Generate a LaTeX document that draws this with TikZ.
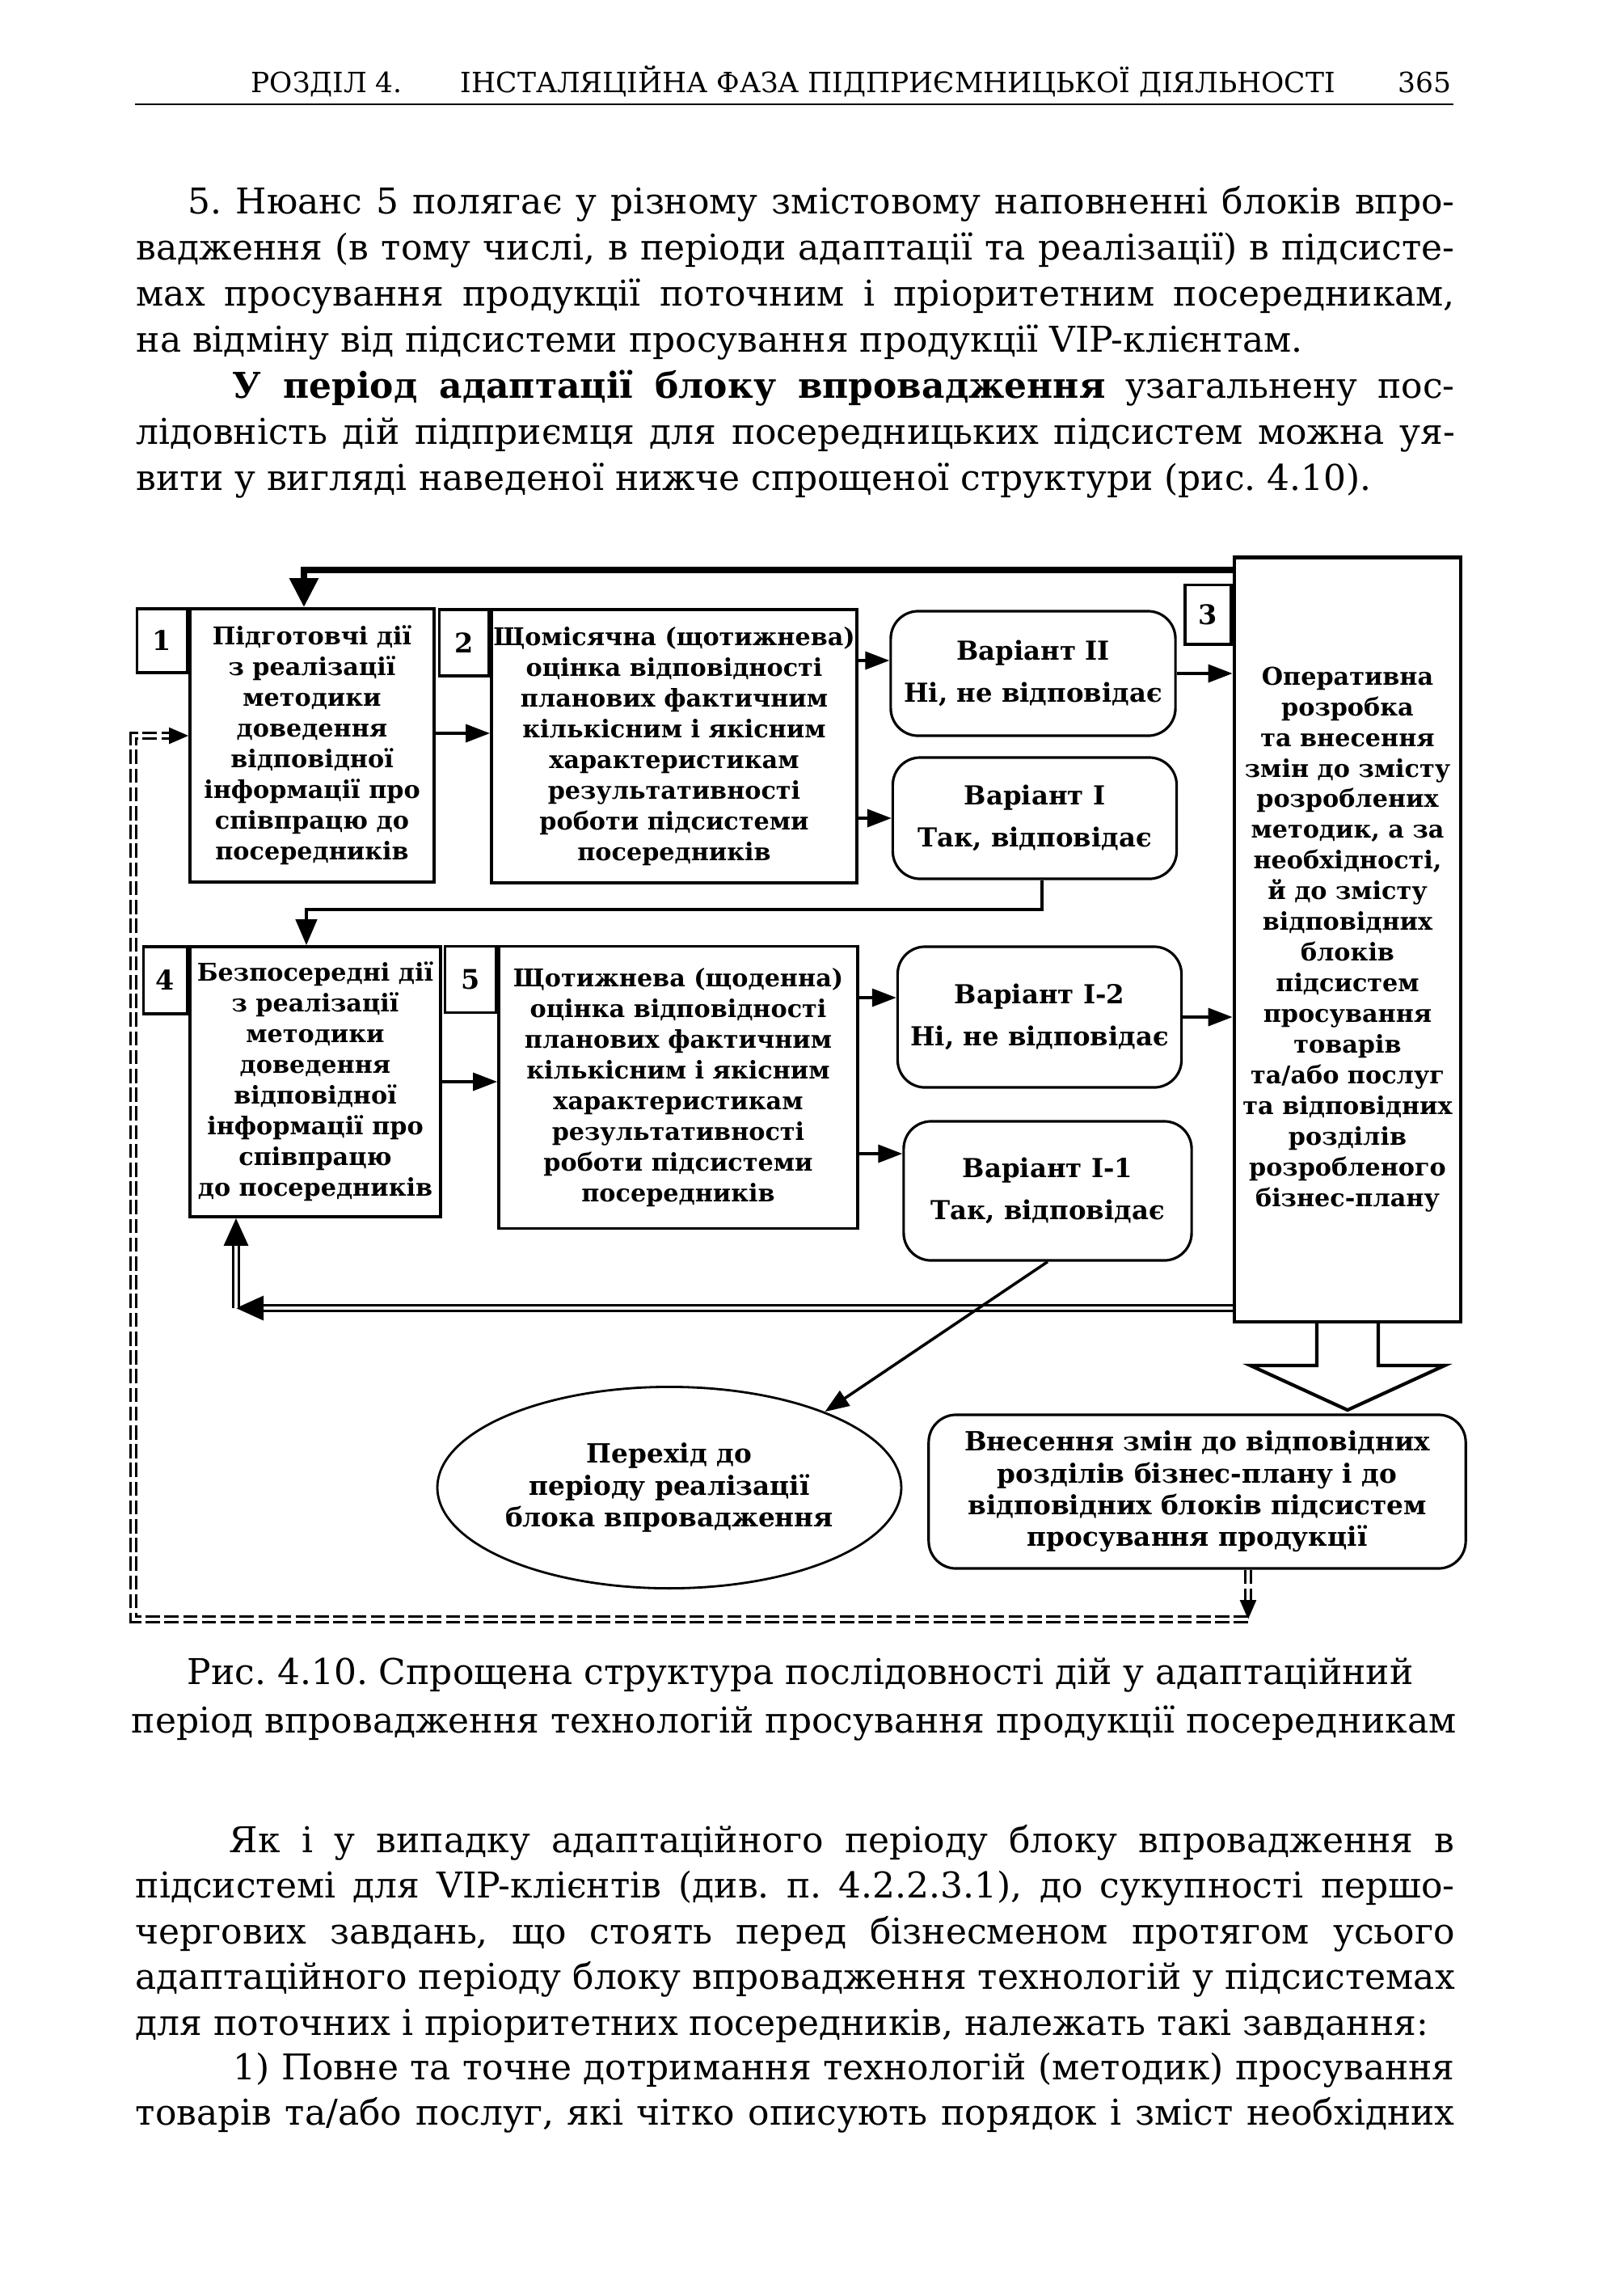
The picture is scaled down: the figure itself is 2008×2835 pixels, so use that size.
\documentclass[tikz,border=0pt]{standalone}
\usepackage{fontspec}
\setmainfont{DejaVu Serif}
\usepackage{tikz}
\usetikzlibrary{arrows.meta,positioning,shapes.geometric}
\newcommand{\boxtext}{\fontsize{8.6}{10.8}\selectfont\bfseries}
\newcommand{\numtext}{\fontsize{9.5}{11}\selectfont\bfseries}
\newcommand{\vartext}{\fontsize{9.2}{14.6}\selectfont\bfseries}
\newcommand{\bigboxtext}{\fontsize{9.3}{11.2}\selectfont\bfseries}
\newcommand{\bodytext}{\fontsize{12.5}{14}\selectfont}
\newcommand{\hdrtext}{\fontsize{9.8}{11}\selectfont}
\newcommand{\jline}[2]{\makebox[#1][s]{#2}}
\frenchspacing

\begin{document}
\begin{tikzpicture}[x=0.01cm,y=-0.01cm,
  txt/.style={inner sep=0pt,anchor=base west,font=\bodytext},
  hdr/.style={inner sep=0pt,anchor=base west,font=\hdrtext},
  blk/.style={draw,line width=1pt,inner sep=0pt,align=center,font=\boxtext},
  numbx/.style={draw,line width=1pt,inner sep=0pt,anchor=north east,font=\numtext},
  varbx/.style={draw,line width=0.9pt,rounded corners=0.34cm,inner sep=0pt,align=center,font=\vartext},
  arr/.style={line width=1pt,-{Triangle[length=0.3cm,width=0.22cm]}},
  arrw/.style={line width=1.3pt,-{Triangle[length=0.32cm,width=0.26cm]}},
  fbk/.style={line width=2.4pt,-{Triangle[length=0.36cm,width=0.34cm]}},
  dbl/.style={double,line width=0.9pt,double distance=1.3pt,-{Triangle[length=0.34cm,width=0.3cm]}},
  dashdbl/.style={double,line width=0.75pt,double distance=1.1pt,dash pattern=on 5pt off 1.6pt,-{Triangle[length=0.24cm,width=0.2cm]}}]
  \fill[white] (0,0) rectangle (2008,2835);
  \useasboundingbox (0,0) rectangle (2008,2835);

  \node[hdr] (hsec) at (310,114) {РОЗДІЛ 4.};
  \node[hdr,anchor=base] (htitle) at (1111,114) {ІНСТАЛЯЦІЙНА ФАЗА ПІДПРИЄМНИЦЬКОЇ ДІЯЛЬНОСТІ};
  \node[hdr,anchor=base east] (hpage) at (1796,114) {365};
  \draw[line width=0.75pt] (167,129) -- (1798,129);

  \node[txt] (pa1) at (232,264) {\jline{15.66cm}{5. Нюанс 5 полягає у різному змістовому наповненні блоків впро-}};
  \node[txt] (pa2) at (168,321) {\jline{16.30cm}{вадження (в тому числі, в періоди адаптації та реалізації) в підсисте-}};
  \node[txt] (pa3) at (168,378) {\jline{16.30cm}{мах просування продукції поточним і пріоритетним посередникам,}};
  \node[txt] (pa4) at (168,435) {на відміну від підсистеми просування продукції VIP-клієнтам.};
  \node[txt] (pa5) at (287,492) {\jline{15.11cm}{\textbf{У період адаптації блоку впровадження} узагальнену пос-}};
  \node[txt] (pa6) at (168,549) {\jline{16.30cm}{лідовність дій підприємця для посередницьких підсистем можна уя-}};
  \node[txt] (pa7) at (168,606) {вити у вигляді наведеної нижче спрощеної структури (рис. 4.10).};

  \node[blk,minimum width=3.02cm,minimum height=3.38cm] (box1) at (386,922)
    {Підготовчі дії\\з реалізації\\методики\\доведення\\відповідної\\інформації про\\співпрацю до\\посередників};
  \node[numbx,minimum width=0.62cm,minimum height=0.79cm] (n1) at (box1.north west) {1};
  \node[blk,minimum width=4.52cm,minimum height=3.38cm] (box2) at (834,923)
    {Щомісячна (щотижнева)\\оцінка відповідності\\планових фактичним\\кількісним і якісним\\характеристикам\\результативності\\роботи підсистеми\\посередників};
  \node[numbx,minimum width=0.61cm,minimum height=0.82cm] (n2) at (box2.north west) {2};
  \node[varbx,minimum width=3.52cm,minimum height=1.54cm] (vII) at (1278,833) {Варіант ІІ\\Ні, не відповідає};
  \node[varbx,minimum width=3.51cm,minimum height=1.50cm] (vI) at (1280,1012) {Варіант І\\Так, відповідає};
  \node[blk,line width=1.3pt,minimum width=2.80cm,minimum height=9.45cm] (box3) at (1667,1162)
    {Оперативна\\розробка\\та внесення\\змін до змісту\\розроблених\\методик, а за\\необхідності,\\й до змісту\\відповідних\\блоків\\підсистем\\просування\\товарів\\та/або послуг\\та відповідних\\розділів\\розробленого\\бізнес-плану};
  \node[numbx,minimum width=0.57cm,minimum height=0.73cm] (n3) at ([yshift=-0.35cm]box3.north west) {3};

  \node[blk,minimum width=3.10cm,minimum height=3.34cm] (box4) at (390,1338)
    {Безпосередні дії\\з реалізації\\методики\\доведення\\відповідної\\інформації про\\співпрацю\\до посередників};
  \node[numbx,minimum width=0.54cm,minimum height=0.83cm] (n4) at (box4.north west) {4};
  \node[blk,minimum width=4.44cm,minimum height=3.49cm] (box5) at (839,1345)
    {Щотижнева (щоденна)\\оцінка відповідності\\планових фактичним\\кількісним і якісним\\характеристикам\\результативності\\роботи підсистеми\\посередників};
  \node[numbx,minimum width=0.63cm,minimum height=0.82cm] (n5) at (box5.north west) {5};
  \node[varbx,minimum width=3.51cm,minimum height=1.74cm] (vI2) at (1286,1258) {Варіант І-2\\Ні, не відповідає};
  \node[varbx,minimum width=3.56cm,minimum height=1.72cm] (vI1) at (1296,1473) {Варіант І-1\\Так, відповідає};

  \node[ellipse,draw,line width=0.8pt,inner sep=0pt,align=center,font=\bigboxtext,
    minimum width=5.68cm,minimum height=2.49cm] (ell) at (828,1840)
    {Перехід до\\періоду реалізації\\блока впровадження};
  \node[varbx,font=\bigboxtext,minimum width=6.64cm,minimum height=1.90cm] (vn) at (1481,1845)
    {Внесення змін до відповідних\\розділів бізнес-плану і до\\відповідних блоків підсистем\\просування продукції};

  \coordinate (ytop) at (0,705);
  \draw[fbk] (box3.west |- ytop) -| ([xshift=-0.1cm]box1.north);
  \coordinate (y12) at (0,907);
  \draw[arr] (box1.east |- y12) -- (box2.west |- y12);
  \coordinate (y2a) at (0,817);
  \draw[arr] (box2.east |- y2a) -- (vII.west |- y2a);
  \draw[arr] (box2.east |- vI.west) -- (vI.west);
  \draw[arr] (vII.east) -- (vII.east -| box3.west);
  \coordinate (ymid) at (0,1125);
  \draw[arrw] ([xshift=0.09cm]vI.south) -- ([xshift=0.09cm]vI.south |- ymid) -| ([xshift=-0.11cm]box4.north);
  \draw[arr] (box4.east) -- (box4.east -| box5.west);
  \coordinate (y5a) at (0,1234);
  \draw[arr] (box5.east |- y5a) -- (vI2.west |- y5a);
  \coordinate (y5b) at (0,1427);
  \draw[arr] (box5.east |- y5b) -- (vI1.west |- y5b);
  \draw[arr] (vI2.east) -- (vI2.east -| box3.west);
  \coordinate (dblc) at (292,1618);
  \draw[dbl] (box3.west |- dblc) -- (dblc);
  \draw[dbl] (dblc) -- (box4.south -| dblc);
  \draw[arr] (vI1.south) -- (ell.26);
  \draw[line width=1.2pt,line join=miter] ([xshift=-0.38cm]box3.south) -- ++(0,52) -- ++(-82,0)
    -- ++(120,55) -- ++(120,-55) -- ++(-82,0) -- ++(0,-52);
  \coordinate (dl) at (165,2003);
  \coordinate (dr) at (1544,2003);
  \draw[dashdbl] (vn.south -| dr) -- (dr);
  \draw[dashdbl] (dr) -- (dl) |- ([yshift=0.12cm]box1.west);

  \node[txt,anchor=base] (cap1) at (990,2083) {Рис. 4.10. Спрощена структура послідовності дій у адаптаційний};
  \node[txt,anchor=base] (cap2) at (982,2143) {період впровадження технологій просування продукції посередникам};

  \node[txt] (pb1) at (283,2291) {\jline{15.15cm}{Як і у випадку адаптаційного періоду блоку впровадження в}};
  \node[txt] (pb2) at (167,2347) {\jline{16.31cm}{підсистемі для VIP-клієнтів (див. п. 4.2.2.3.1), до сукупності першо-}};
  \node[txt] (pb3) at (167,2404) {\jline{16.31cm}{чергових завдань, що стоять перед бізнесменом протягом усього}};
  \node[txt] (pb4) at (167,2460) {\jline{16.31cm}{адаптаційного періоду блоку впровадження технологій у підсистемах}};
  \node[txt] (pb5) at (167,2517) {для поточних і пріоритетних посередників, належать такі завдання:};
  \node[txt] (pb6) at (288,2572) {\jline{15.10cm}{1) Повне та точне дотримання технологій (методик) просування}};
  \node[txt] (pb7) at (167,2628) {\jline{16.31cm}{товарів та/або послуг, які чітко описують порядок і зміст необхідних}};
\end{tikzpicture}
\end{document}
